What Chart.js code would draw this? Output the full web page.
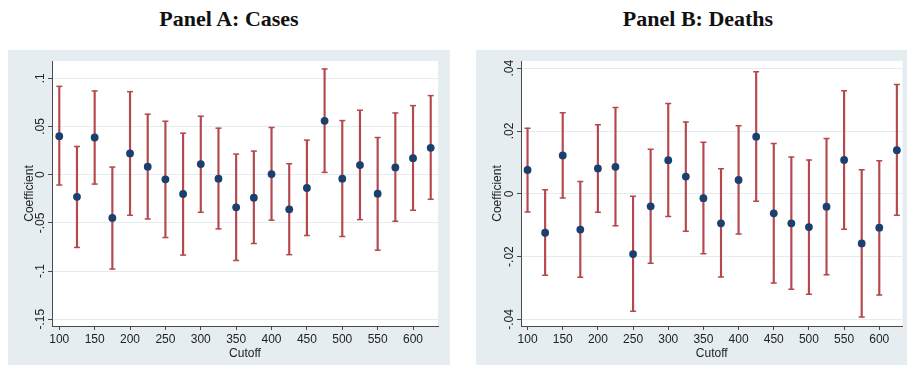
<!DOCTYPE html>
<html>
<head>
<meta charset="utf-8">
<script src="https://cdn.jsdelivr.net/npm/chart.js@4.4.1/dist/chart.umd.min.js"></script>
<style>
  html, body { margin: 0; padding: 0; background: #ffffff; }
  body { width: 907px; height: 365px; position: relative; overflow: hidden; }
  .title { position: absolute; top: 8px; width: 300px; text-align: center; white-space: nowrap;
           font-family: "Liberation Serif", "Times New Roman", serif; font-weight: bold; font-size: 22px;
           line-height: 22px; color: #111; }
  .panel { position: absolute; top: 50px; height: 315px; background: #e6edf0; }
  canvas { display: block; }
</style>
</head>
<body>
<div class="title" style="left:79px;">Panel A: Cases</div>
<div class="title" style="left:548px;">Panel B: Deaths</div>
<div class="panel" style="left:8px; width:442px;"><canvas id="chartA" width="442" height="315"></canvas></div>
<div class="panel" style="left:476px; width:431px;"><canvas id="chartB" width="431" height="315"></canvas></div>
<script>
// ---- data ----
const cutoffs = [100, 125, 150, 175, 200, 225, 250, 275, 300, 325, 350, 375, 400, 425, 450, 475, 500, 525, 550, 575, 600, 625];
const xTickValues = [100, 150, 200, 250, 300, 350, 400, 450, 500, 550, 600];

const casesCoef = [0.040, -0.023, 0.0386, -0.0448, 0.0221, 0.0083, -0.0048, -0.020, 0.011, -0.0041, -0.0338, -0.0238, 0.0007, -0.0359, -0.0138, 0.0559, -0.0041, 0.010, -0.0197, 0.0076, 0.0172, 0.0279];
const casesHi   = [0.0917, 0.0293, 0.0869, 0.0079, 0.0862, 0.0628, 0.0555, 0.0431, 0.0607, 0.0483, 0.0214, 0.0245, 0.049, 0.0114, 0.0359, 0.1097, 0.0562, 0.0669, 0.0386, 0.0641, 0.0717, 0.0821];
const casesLo   = [-0.0107, -0.0755, -0.0097, -0.0979, -0.0421, -0.0459, -0.0652, -0.0834, -0.039, -0.0562, -0.089, -0.0714, -0.0472, -0.083, -0.0631, 0.0024, -0.0641, -0.0466, -0.0783, -0.0483, -0.0369, -0.0255];
const casesYTickValues = [-0.15, -0.1, -0.05, 0, 0.05, 0.1];
const casesYTickLabels = ["-.15", "-.1", "-.05", "0", ".05", ".1"];

const deathsCoef = [0.0076, -0.0124, 0.0122, -0.0114, 0.0081, 0.0086, -0.0192, -0.004, 0.0107, 0.0055, -0.0014, -0.0094, 0.0044, 0.0182, -0.0062, -0.0094, -0.0106, -0.0041, 0.0108, -0.0158, -0.0108, 0.0139];
const deathsHi   = [0.0209, 0.0013, 0.0258, 0.0039, 0.022, 0.0275, -0.0008, 0.0142, 0.0288, 0.0229, 0.0164, 0.008, 0.0217, 0.0389, 0.016, 0.0117, 0.0108, 0.0176, 0.0328, 0.0077, 0.0105, 0.0348];
const deathsLo   = [-0.0058, -0.0259, -0.0013, -0.0266, -0.0059, -0.0102, -0.0374, -0.0221, -0.0072, -0.0119, -0.0191, -0.0265, -0.0128, -0.0024, -0.0284, -0.0304, -0.032, -0.0258, -0.0113, -0.0392, -0.0322, -0.0068];
const deathsYTickValues = [-0.04, -0.02, 0, 0.02, 0.04];
const deathsYTickLabels = ["-.04", "-.02", "0", ".02", ".04"];

// ---- styling ----
const RED = "#b5484d";
const NAVY = "#1b3f6e";
const AXIS = "#4a4a4a";
const GRID = "#e4ecef";
const TEXT = "#222222";
const FONT = "'Liberation Sans', Arial, Helvetica, sans-serif";

const plotBg = {
  id: "plotBg",
  beforeDraw(chart) {
    const { ctx, chartArea: a } = chart;
    ctx.save();
    ctx.fillStyle = "#ffffff";
    ctx.fillRect(a.left, a.top, a.right - a.left, a.bottom - a.top);
    ctx.restore();
  }
};

function makeChart(id, coef, lo, hi, yTickValues, yTickLabels, yMin, yMax, xMin, xMax, yAxisWidth, padRight) {
  const bars = cutoffs.map((x, i) => ({ x: x, y: [lo[i], hi[i]] }));
  const caps = cutoffs.map((x, i) => ({ x: x, y: hi[i] })).concat(cutoffs.map((x, i) => ({ x: x, y: lo[i] })));
  const pts = cutoffs.map((x, i) => ({ x: x, y: coef[i] }));
  return new Chart(document.getElementById(id), {
    type: "scatter",
    data: {
      datasets: [
        { type: "scatter", data: pts, order: 0, pointRadius: 3.9, pointHoverRadius: 3.9,
          backgroundColor: NAVY, borderColor: NAVY, borderWidth: 0 },
        { type: "scatter", data: caps, order: 1, pointStyle: "line", pointRadius: 3, pointHoverRadius: 3,
          borderColor: RED, backgroundColor: RED, borderWidth: 1.5 },
        { type: "bar", data: bars, order: 2, barThickness: 1.5, backgroundColor: RED, borderWidth: 0 }
      ]
    },
    options: {
      responsive: false,
      animation: false,
      events: [],
      layout: { padding: { left: 0, right: padRight, top: 11, bottom: 0 } },
      plugins: { legend: { display: false }, tooltip: { enabled: false } },
      scales: {
        x: {
          type: "linear", min: xMin, max: xMax, offset: false,
          afterBuildTicks: s => { s.ticks = xTickValues.map(v => ({ value: v })); },
          afterFit: s => { s.height = 39; },
          grid: { offset: false, drawOnChartArea: false, drawTicks: true, tickLength: 4, tickColor: AXIS },
          border: { display: true, color: AXIS, width: 1 },
          ticks: { autoSkip: false, maxRotation: 0, minRotation: 0, padding: 2, color: TEXT,
                   font: { family: FONT, size: 12 }, callback: v => String(v) },
          title: { display: true, text: "Cutoff", color: TEXT, font: { family: FONT, size: 12 },
                   padding: { top: 0, bottom: 4 } }
        },
        y: {
          type: "linear", min: yMin, max: yMax,
          afterBuildTicks: s => { s.ticks = yTickValues.map(v => ({ value: v })); },
          afterFit: s => { s.width = yAxisWidth; },
          grid: { offset: false, color: GRID, lineWidth: 1, drawTicks: true, tickLength: 4, tickColor: AXIS },
          border: { display: true, color: AXIS, width: 1 },
          ticks: { autoSkip: false, minRotation: 90, maxRotation: 90, crossAlign: "center", padding: -3,
                   color: TEXT, font: { family: FONT, size: 12 },
                   callback: v => {
                     const i = yTickValues.findIndex(t => Math.abs(t - v) < 1e-9);
                     return i >= 0 ? yTickLabels[i] : "";
                   } },
          title: { display: true, text: "Coefficient", color: TEXT, font: { family: FONT, size: 12 },
                   padding: { top: 14, bottom: 0 } }
        }
      }
    },
    plugins: [plotBg]
  });
}

makeChart("chartA", casesCoef, casesLo, casesHi, casesYTickValues, casesYTickLabels,
          -0.157, 0.118, 89.7, 635.3, 44, 12);
makeChart("chartB", deathsCoef, deathsLo, deathsHi, deathsYTickValues, deathsYTickLabels,
          -0.0421, 0.0423, 90.7, 633, 45, 2);
</script>
</body>
</html>
